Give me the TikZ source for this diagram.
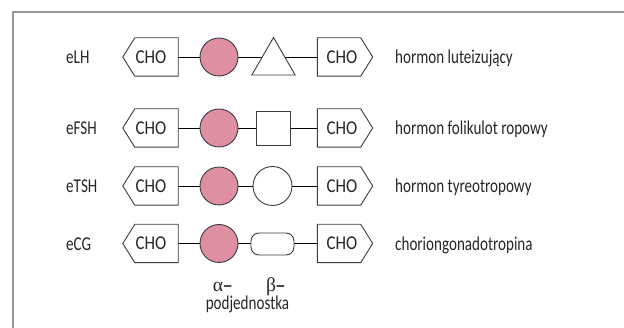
\documentclass[tikz,border=0pt]{standalone}
\usepackage{fontspec}
\setmainfont{Carlito}[FakeStretch=0.77]
\newfontfamily\chofont{Carlito}[FakeStretch=0.86]
\newfontfamily\grkfont{Liberation Serif}
\newfontfamily\dashfont{Liberation Sans Bold}
\usetikzlibrary{shapes.geometric,backgrounds}

\definecolor{framegray}{HTML}{979797}
\definecolor{alphapink}{HTML}{DE8FA2}
\definecolor{edgegray}{HTML}{3C3C3C}

\tikzset{
  lbl/.style={anchor=base west, inner sep=0pt, text=black!85, font=\fontsize{19.6}{22}\selectfont},
  chobox/.style={inner sep=0pt, minimum width=55pt, minimum height=38pt, text=black!85,
    font=\chofont\fontsize{19.6}{22}\selectfont},
  chooutline/.style={draw=edgegray, line width=0.9pt, fill=white, line join=miter},
  alphasub/.style={circle, draw=edgegray, line width=0.9pt, fill=alphapink,
    minimum size=38pt, inner sep=0pt},
  betasub/.style={draw=edgegray, line width=0.9pt, fill=white, inner sep=0pt},
  conn/.style={draw=black, line width=0.9pt},
  sublbl/.style={inner sep=0pt, text=black!85, font=\fontsize{19.6}{22}\selectfont},
}

% pentagon pointing left / right around a CHO node
\newcommand\chopointleft[1]{%
  \draw[chooutline] (#1.west) -- ([xshift=12pt]#1.north west) -- (#1.north east)
    -- (#1.south east) -- ([xshift=12pt]#1.south west) -- cycle;}
\newcommand\chopointright[1]{%
  \draw[chooutline] (#1.north west) -- ([xshift=-12pt]#1.north east) -- (#1.east)
    -- ([xshift=-12pt]#1.south east) -- (#1.south west) -- cycle;}

\begin{document}
\begin{tikzpicture}[x=1pt,y=-1pt]
\useasboundingbox (0,0) rectangle (624,328);

% outer frame
\draw[framegray, line width=2.5pt] (13.2,328) -- (13.2,12.2) -- (624,12.2);

% hormone rows: y positions
\foreach \r/\y in {1/57,2/128,3/186,4/243.5}{
  \coordinate (row\r) at (0,\y);
}

% CHO ends
\foreach \r in {1,2,3,4}{
  \path (row\r) ++(150.5,0) node[chobox] (chl\r) {\phantom{CHO}};
  \path (row\r) ++(345,0) node[chobox] (chr\r) {\phantom{CHO}};
}
\foreach \r in {1,2,3,4}{
  \chopointleft{chl\r}
  \chopointright{chr\r}
  \path (chl\r.center) ++(0.5,0) node[chobox, minimum width=0pt] (chlt\r) {CHO};
  \path (chr\r.center) ++(-3,0) node[chobox, minimum width=0pt] (chrt\r) {CHO};
}

% alpha subunits
\foreach \r in {1,2,3,4}{
  \path (row\r) ++(219,0) node[alphasub] (a\r) {};
}

% beta subunits
\node[betasub, regular polygon, regular polygon sides=3, minimum size=50pt]
  (b1) at (273.5,62.5) {};
\node[betasub, rectangle, minimum size=34pt] (b2) at (273,128) {};
\node[betasub, circle, minimum size=39pt] (b3) at (272.5,186) {};
\node[betasub, rectangle, rounded corners=8pt, minimum width=43pt,
  minimum height=22pt] (b4) at (272.5,244) {};

% chain connectors behind the subunits
\begin{scope}[on background layer]
  \foreach \r in {1,2,3,4}{
    \draw[conn] (chl\r.east) -- (chr\r.west);
  }
\end{scope}

% row names
\node[lbl] (n1) at (66,63.8) {eLH};
\node[lbl] (n2) at (66,134.8) {eFSH};
\node[lbl] (n3) at (66,192.8) {eTSH};
\node[lbl] (n4) at (66,250.3) {eCG};

% hormone descriptions
\node[lbl] (d1) at (395,63.8) {hormon luteizujący};
\node[lbl] (d2) at (395,134.8) {hormon folikulot ropowy};
\node[lbl] (d3) at (395,192.8) {hormon tyreotropowy};
\node[lbl] (d4) at (395,250.3) {choriongonadotropina};

% subunit legend
\node[sublbl, anchor=base] (la) at (222.5,292) {{\grkfont α}{\dashfont\fontsize{15}{18}\selectfont −}};
\node[sublbl, anchor=base] (lb) at (275.5,292) {{\grkfont β}{\dashfont\fontsize{15}{18}\selectfont −}};
\node[sublbl, anchor=base] (lp) at (247.5,310) {podjednostka};
\end{tikzpicture}
\end{document}
